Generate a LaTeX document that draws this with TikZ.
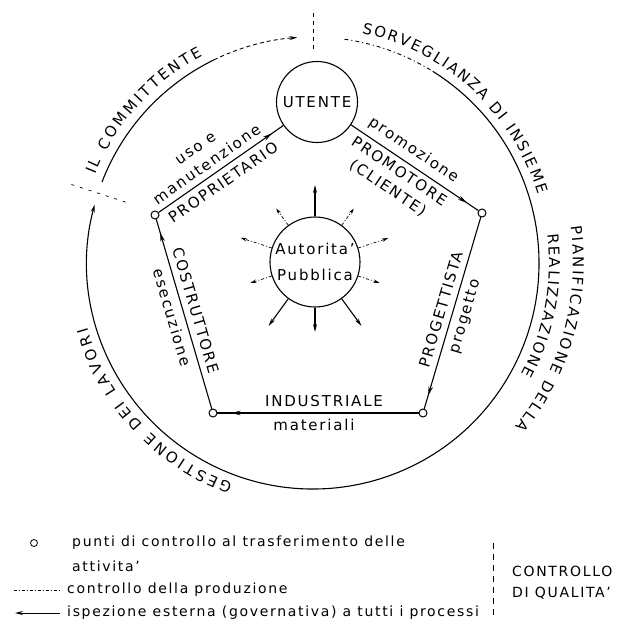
\documentclass[tikz,border=0pt]{standalone}
\usepackage{fontspec}
\setmainfont{DejaVu Sans}[LetterSpace=12]
\newfontfamily\ringfamily{DejaVu Sans}
\usetikzlibrary{arrows.meta, calc, decorations.text, decorations.markings}

\newcommand\labelfont{\fontsize{15}{20}\selectfont}
\newcommand\ringfont{\ringfamily\fontsize{15}{16}\selectfont}
\newcommand\legendfont{\fontsize{14}{16}\selectfont}

\begin{document}
\begin{tikzpicture}[
  x=1pt, y=1pt,
  font=\labelfont,
  ring/.style={line width=1.1pt},
  prod/.style={line width=0.7pt, dash pattern=on 3pt off 2pt on 1pt off 2pt},
  cut/.style={line width=0.7pt, dash pattern=on 4pt off 4pt},
  arrowhead/.style={-{Stealth[length=8pt, width=4pt]}},
  flow/.style={line width=1.1pt, postaction={decorate, decoration={markings,
    mark=at position -14pt with {\arrow{Stealth[length=9pt, width=4.5pt]}}}}},
  ctrl/.style={circle, draw, fill=white, line width=1pt, inner sep=0pt, minimum size=8pt},
  actor/.style={circle, draw, line width=1.1pt, inner sep=0pt, align=center},
  lbl/.style={sloped, inner sep=2pt, align=center},
  ringtext/.style={decorate, decoration={text along path, text align=fit to path,
    text={|\ringfont|#1}}},
  legendtext/.style={anchor=west, inner sep=0pt, font=\legendfont},
]
  \useasboundingbox (-313,-374) rectangle (319,263);

  % outer ring
  \draw[ring] (159:226) arc[start angle=159, end angle=116, radius=226pt];
  \draw[ring, line width=0.9pt, dash pattern=on 4pt off 3pt, arrowhead] (116:226) arc[start angle=116, end angle=94, radius=226pt];
  \draw[ring, line width=0.9pt, dash pattern=on 4pt off 3pt on 1pt off 3pt] (82:226) arc[start angle=82, end angle=58, radius=226pt];
  \draw[ring, arrowhead] (58:226) arc[start angle=58, end angle=-195, radius=226pt];
  \draw[cut] (90:214) -- (90:254);
  \draw[cut, dash pattern=on 3pt off 6pt] (162:197) -- (162:255);

  \path[ringtext={IL COMMITTENTE}] (158:235) arc[start angle=158, end angle=118, radius=235pt];
  \path[ringtext={SORVEGLIANZA DI INSIEME}] (78:235) arc[start angle=78, end angle=17, radius=235pt];
  \path[ringtext={PIANIFICAZIONE DELLA}] (8:260) arc[start angle=8, end angle=-39, radius=260pt];
  \path[ringtext={REALIZZAZIONE}] (7:236) arc[start angle=7, end angle=-28, radius=236pt];
  \path[ringtext={GESTIONE DEI LAVORI}] (250:235) arc[start angle=250, end angle=196, radius=235pt];

  % pentagon of actors
  \node[actor, minimum size=81pt] (ut) at (4,161) {UTENTE};
  \node[actor, minimum size=90pt, font=\fontsize{15}{26}\selectfont] (ap) at (2,1) {Autorita'\\Pubblica};
  \node[ctrl] (ur) at (169,50) {};
  \node[ctrl] (lr) at (110,-150) {};
  \node[ctrl] (ll) at (-100,-150) {};
  \node[ctrl] (ul) at (-158,48) {};

  \draw[flow] (ul) -- node[lbl, pos=.44, above=4pt] {uso e\\manutenzione}
                      node[lbl, pos=.46, below=4pt] {PROPRIETARIO} (ut);
  \draw[flow] (ut) -- node[lbl, pos=.43, above=4pt] {promozione}
                      node[lbl, pos=.43, below=3pt] {PROMOTORE\\(CLIENTE)} (ur);
  \draw[flow] (ur) -- node[lbl, above=4pt] {PROGETTISTA} node[lbl, below=4pt] {progetto} (lr);
  \draw[flow] (lr) -- node[lbl, pos=.47, above=4pt] {INDUSTRIALE} node[lbl, pos=.52, below=4pt] {materiali} (ll);
  \draw[flow] (ll) -- node[lbl, above=4pt] {COSTRUTTORE} node[lbl, below=4pt] {esecuzione} (ul);

  % rays of the public authority
  \foreach \a/\r in {90/77, 306/79, 270/70, 234/79} {
    \path (ap) ++(\a:\r) coordinate (ray\a);
    \draw[line width=1.1pt, arrowhead] (ap.\a) -- (ray\a);
  }
  \foreach \a/\r in {54/66, 18/77, 342/68, 198/68, 162/78, 126/66} {
    \path (ap) ++(\a:\r) coordinate (ray\a);
    \draw[prod, -{Stealth[length=6pt, width=3.5pt]}] (ap.\a) -- (ray\a);
  }

  % legend
  \node[ctrl, line width=0.8pt, minimum size=7pt] (lgo) at (-279,-280) {};
  \node[legendtext] (lg1) at (-241,-280) {punti di controllo al trasferimento delle};
  \node[legendtext] (lg2) at (-241,-303) {attivita'};
  \coordinate (lgd1) at (-299,-327);
  \coordinate (lgd2) at (-251,-327);
  \draw[prod] (lgd1) -- (lgd2);
  \node[legendtext] (lg3) at (-246,-327) {controllo della produzione};
  \coordinate (lga1) at (-298,-350);
  \coordinate (lga2) at (-253,-350);
  \draw[line width=1pt, arrowhead] (lga2) -- (lga1);
  \node[legendtext] (lg4) at (-246,-350) {ispezione esterna (governativa) a tutti i processi};
  \coordinate (qc1) at (180,-280);
  \coordinate (qc2) at (180,-352);
  \draw[cut, dash pattern=on 6pt off 5pt] (qc1) -- (qc2);
  \node[legendtext] (qc) at (199,-308) {CONTROLLO};
  \node[legendtext] (dq) at (199,-330) {DI QUALITA'};
\end{tikzpicture}
\end{document}
